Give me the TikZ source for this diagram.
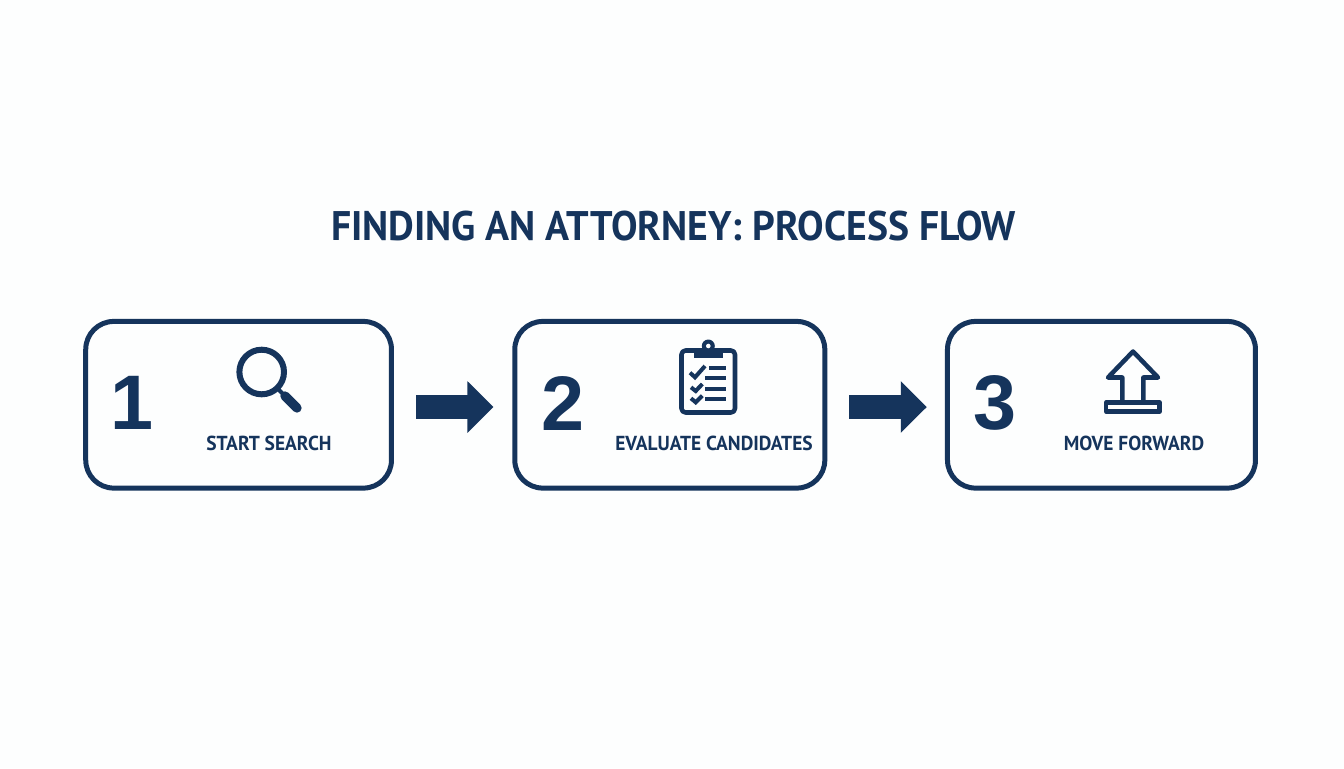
\documentclass[tikz,border=0pt]{standalone}
\usepackage{fontspec}
\setmainfont{Liberation Sans}
\newfontfamily\labelfont[FakeStretch=0.96]{PT Sans}
\usepackage{xcolor}
\usepackage{tikz}
\usetikzlibrary{arrows.meta,positioning}

\definecolor{navy}{HTML}{15345C}
\definecolor{paper}{HTML}{FDFEFE}

\begin{document}
\begin{tikzpicture}[
    x=0.75pt, y=-0.75pt,
    box/.style={rectangle, draw=navy, line width=3.75pt, rounded corners=21pt, minimum height=125pt, outer sep=0pt, inner sep=0pt},
    number/.style={text=navy, inner sep=0pt, font=\fontsize{58}{58}\selectfont\bfseries},
    caption/.style={text=navy, inner sep=0pt, font=\labelfont\fontsize{15.2}{16}\selectfont\bfseries},
    heading/.style={text=navy, inner sep=0pt, font=\labelfont\fontsize{31}{32}\selectfont\bfseries},
    arrow/.style={-{Triangle[length=19.5pt, width=37.5pt]}, navy, line width=18pt},
    icon/.style={draw=navy, line width=3.4pt, line join=round},
    tick/.style={draw=navy, line width=3pt}
]
\useasboundingbox (0,0) rectangle (1344,768);
\fill[paper] (0,0) rectangle (1344,768);

% Title
\node[heading] (title) at (673.5,226) {FINDING AN ATTORNEY: PROCESS FLOW};

% Boxes
\node[box, minimum width=229.3pt] (start) at (238.6,404.75) {};
\node[box, minimum width=232.5pt, right=92.5pt of start] (evaluate) {};
\node[box, minimum width=231pt, right=92pt of evaluate] (forward) {};

% Numbers
\node[number] (num1) at (132,403) {1};
\node[number] (num2) at (563,403) {2};
\node[number] (num3) at (995,403) {3};

% Captions
\node[caption] (cap1) at (269,443) {START SEARCH};
\node[caption] (cap2) at (714,443) {EVALUATE CANDIDATES};
\node[caption] (cap3) at (1134,443) {MOVE FORWARD};

% Arrows
\draw[arrow, shorten <=18.75pt, shorten >=16pt] ([yshift=-1.7pt]start.east) -- ([yshift=-1.7pt]evaluate.west);
\draw[arrow, shorten <=18.5pt, shorten >=15.5pt] ([yshift=-1.7pt]evaluate.east) -- ([yshift=-1.7pt]forward.west);

% Magnifier
\draw[navy, line width=4.5pt] (261.7,372) circle (22.3);
\draw[navy, line width=3pt] (277,388) -- (286,397);
\draw[navy, line width=7pt, line cap=round] (285,396) -- (297,408);

% Clipboard
\draw[icon, rounded corners=3pt] (681.5,350.5) rectangle (735,412.5);
\fill[navy] (708.3,346) circle (6.5);
\fill[navy] (694,348) rectangle (723,357.5);
\fill[white] (708.3,346) circle (2.3);
\foreach \xs/\ya in {709/368, 705/377.7, 705/388.7, 705/399.3}
    \draw[tick] (\xs,\ya) -- (726,\ya);
\draw[tick] (690,372.7) -- (695,377.3) -- (705,366);
\draw[tick] (691,387.3) -- (695.7,391) -- (702.3,384);
\draw[tick] (691,398.3) -- (695.7,402.3) -- (702.3,395.7);

% Up arrow
\draw[icon] (1122.3,402) -- (1122.3,377.5) -- (1108,377.5) -- (1133,351.5) -- (1158,377.5) -- (1143.3,377.5) -- (1143.3,402);
\draw[icon] (1106.2,402.3) rectangle (1159.5,411.7);

\end{tikzpicture}
\end{document}
